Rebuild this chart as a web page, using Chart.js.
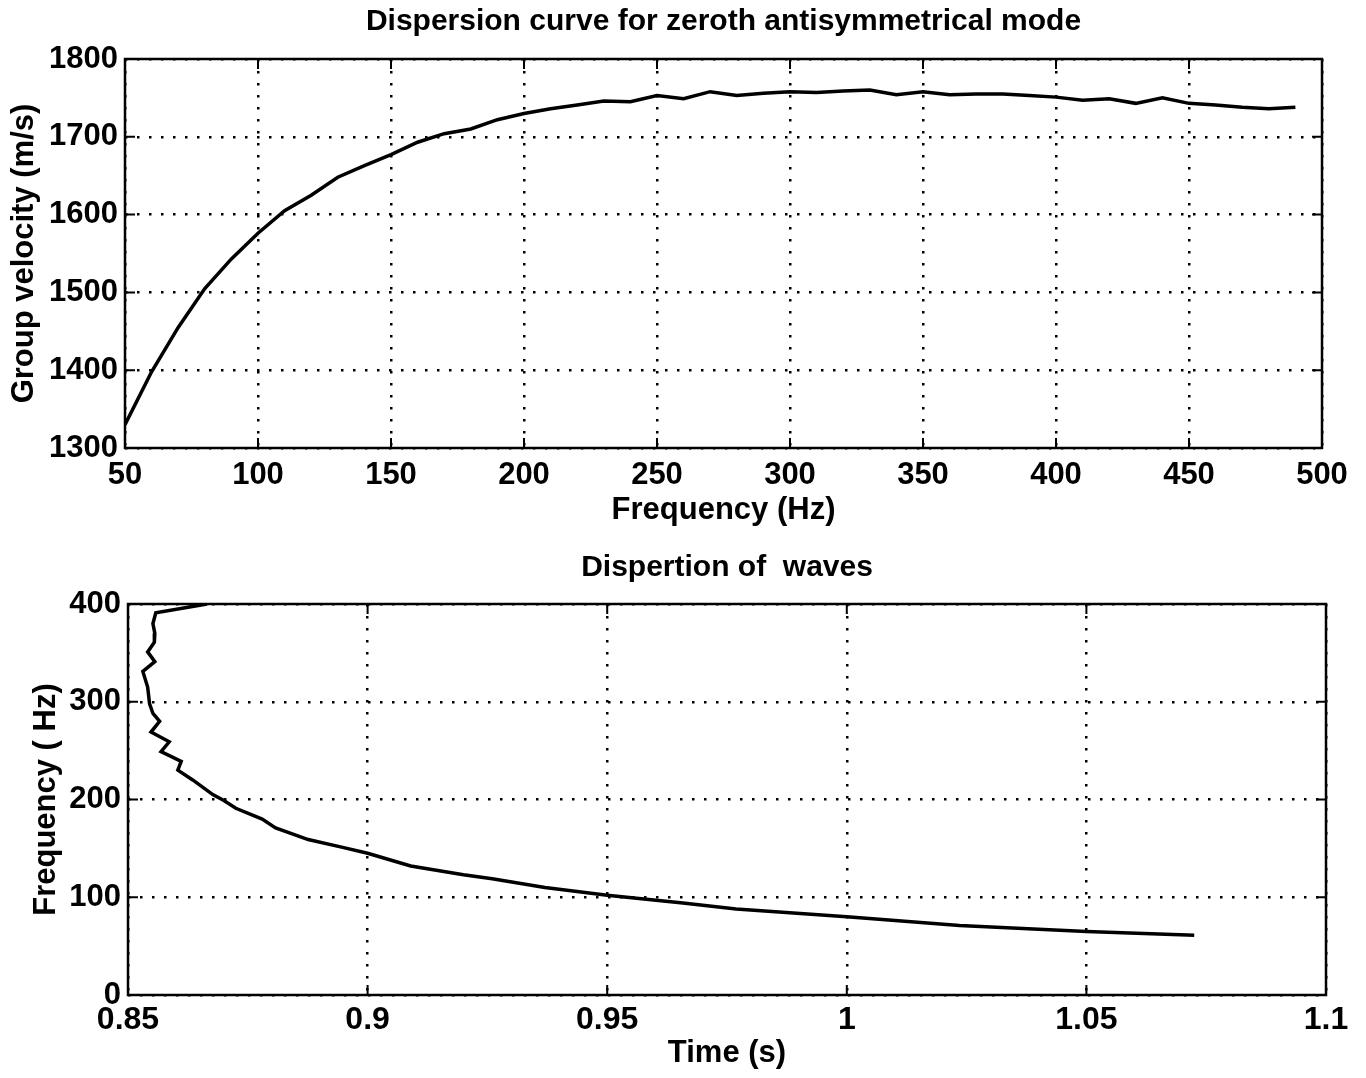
<!DOCTYPE html>
<html>
<head>
<meta charset="utf-8">
<script src="https://cdn.jsdelivr.net/npm/chart.js@4.4.0/dist/chart.umd.min.js"></script>
<style>
    body { margin: 0; background: #ffffff; }
    canvas { display: block; }
</style>
</head>
<body>
<canvas id="velocityChart" width="1366" height="540"></canvas>
<canvas id="waveChart" width="1366" height="538"></canvas>
<script>
// Datos: curva de dispersion (frecuencia vs velocidad de grupo)
const frequencies = [50, 60, 70, 80, 90, 100, 110, 120, 130, 140, 150, 160, 170, 180, 190,
    200, 210, 220, 230, 240, 250, 260, 270, 280, 290, 300, 310, 320, 330, 340,
    350, 360, 370, 380, 390, 400, 410, 420, 430, 440, 450, 460, 470, 480, 490];
const groupVelocity = [1330, 1398, 1455, 1505, 1543, 1576, 1605, 1625, 1648, 1663, 1677, 1693, 1704, 1710, 1722,
    1730, 1736, 1741, 1746, 1745, 1753, 1749, 1758, 1753, 1756, 1758, 1757, 1759, 1760, 1754,
    1758, 1754, 1755, 1755, 1753, 1751, 1747, 1749, 1743, 1750, 1743, 1741, 1738, 1736, 1738];

// Datos: dispersion de ondas (tiempo vs frecuencia)
const arrivalTime = [0.8665, 0.8558, 0.8552, 0.8556, 0.8555, 0.8541, 0.8556, 0.8531, 0.8541, 0.8545,
    0.8552, 0.8566, 0.8548, 0.8586, 0.8569, 0.8611, 0.8604, 0.8635, 0.8677, 0.8700,
    0.8725, 0.8780, 0.8808, 0.8876, 0.8948, 0.9000, 0.9090, 0.9200, 0.9260, 0.9370,
    0.9500, 0.9658, 0.9769, 1.0000, 1.0235, 1.0500, 1.0725];
const waveFrequency = [400, 391, 380, 370, 361, 351, 341, 331, 315, 298,
    288, 280, 269, 259, 249, 239, 230, 220, 205, 199,
    191, 180, 171, 159, 151, 145, 132, 123, 119, 110,
    102, 94, 88, 80, 71, 65, 61];

// Ticks
const freqTicks = [50, 100, 150, 200, 250, 300, 350, 400, 450, 500];
const velocityTicks = [1300, 1400, 1500, 1600, 1700, 1800];
const timeTicks = [0.85, 0.9, 0.95, 1, 1.05, 1.1];
const waveFreqTicks = [0, 100, 200, 300, 400];

const FONT = "'Liberation Sans', Arial, Helvetica, sans-serif";

// Marco negro y marcas hacia adentro (estilo MATLAB)
const boxPlugin = {
    id: 'boxPlugin',
    afterDatasetsDraw(chart) {
        const c = chart.ctx;
        const a = chart.chartArea;
        const xs = chart.scales.x;
        const ys = chart.scales.y;
        c.save();
        c.strokeStyle = '#000';
        c.lineWidth = 2;
        c.beginPath();
        xs.ticks.forEach(t => {
            const px = xs.getPixelForValue(t.value);
            c.moveTo(px, a.bottom); c.lineTo(px, a.bottom - 10);
            c.moveTo(px, a.top); c.lineTo(px, a.top + 10);
        });
        ys.ticks.forEach(t => {
            const py = ys.getPixelForValue(t.value);
            c.moveTo(a.left, py); c.lineTo(a.left + 10, py);
            c.moveTo(a.right, py); c.lineTo(a.right - 10, py);
        });
        c.stroke();
        c.lineWidth = 2.5;
        c.strokeRect(a.left, a.top, a.right - a.left, a.bottom - a.top);
        c.restore();
    }
};

function toPoints(xs, ys) {
    return xs.map((x, i) => ({ x: x, y: ys[i] }));
}

function fmt(v) {
    return String(+v.toFixed(2));
}

function buildChart(id, opts) {
    var ctx = document.getElementById(id).getContext('2d');
    return new Chart(ctx, {
        type: 'line',
        data: {
            datasets: [{
                data: toPoints(opts.xData, opts.yData),
                borderColor: '#000',
                borderWidth: 3.5,
                pointRadius: 0,
                tension: 0,
                fill: false
            }]
        },
        options: {
            responsive: false,
            animation: false,
            events: [],
            layout: { padding: { left: 0, right: opts.rightPad, top: 0, bottom: 0 } },
            plugins: {
                legend: { display: false },
                tooltip: { enabled: false },
                title: {
                    display: true,
                    text: opts.title,
                    fullSize: false,
                    color: '#000',
                    font: { family: FONT, size: 30, weight: 'bold', lineHeight: 1.2 },
                    padding: { top: opts.titleTop, bottom: opts.titleBottom }
                }
            },
            scales: {
                x: {
                    type: 'linear',
                    min: opts.xTicks[0],
                    max: opts.xTicks[opts.xTicks.length - 1],
                    afterBuildTicks: s => { s.ticks = opts.xTicks.map(v => ({ value: v })); },
                    afterFit: s => { s.height = opts.xHeight; },
                    grid: { color: '#000', lineWidth: 2.5, drawTicks: false },
                    border: { display: false, dash: [2.5, 9.5] },
                    ticks: {
                        color: '#000',
                        padding: opts.xTickPad,
                        maxRotation: 0,
                        font: { family: FONT, size: opts.xTickSize, weight: 'bold' },
                        callback: fmt
                    },
                    title: {
                        display: true,
                        text: opts.xTitle,
                        color: '#000',
                        font: { family: FONT, size: 31, weight: 'bold', lineHeight: 1.2 },
                        padding: { top: 0, bottom: opts.xTitlePad }
                    }
                },
                y: {
                    type: 'linear',
                    min: opts.yTicks[0],
                    max: opts.yTicks[opts.yTicks.length - 1],
                    afterBuildTicks: s => { s.ticks = opts.yTicks.map(v => ({ value: v })); },
                    afterFit: s => { s.width = opts.yWidth; },
                    grid: { color: '#000', lineWidth: 2.5, drawTicks: false },
                    border: { display: false, dash: [2.5, 9.5] },
                    ticks: {
                        color: '#000',
                        padding: 7,
                        font: { family: FONT, size: 31, weight: 'bold' },
                        callback: fmt
                    },
                    title: {
                        display: true,
                        text: opts.yTitle,
                        color: '#000',
                        font: { family: FONT, size: 31, weight: 'bold', lineHeight: 1.2 },
                        padding: { top: opts.yTitlePad, bottom: 0 }
                    }
                }
            }
        },
        plugins: [boxPlugin]
    });
}

// Grafico superior: velocidad de grupo
var velocityChart = buildChart('velocityChart', {
    xData: frequencies, yData: groupVelocity,
    xTicks: freqTicks, yTicks: velocityTicks,
    title: 'Dispersion curve for zeroth antisymmetrical mode',
    xTitle: 'Frequency (Hz)', yTitle: 'Group velocity (m/s)',
    titleTop: 4, titleBottom: 19,
    rightPad: 44, yWidth: 125, xHeight: 92,
    xTickSize: 31, xTickPad: 9, xTitlePad: 11, yTitlePad: 6
});

// Grafico inferior: dispersion de ondas
var waveChart = buildChart('waveChart', {
    xData: arrivalTime, yData: waveFrequency,
    xTicks: timeTicks, yTicks: waveFreqTicks,
    title: 'Dispertion of  waves',
    xTitle: 'Time (s)', yTitle: 'Frequency ( Hz)',
    titleTop: 10, titleBottom: 18,
    rightPad: 40, yWidth: 128, xHeight: 83,
    xTickSize: 32, xTickPad: 6, xTitlePad: 6, yTitlePad: 28
});
</script>
</body>
</html>
